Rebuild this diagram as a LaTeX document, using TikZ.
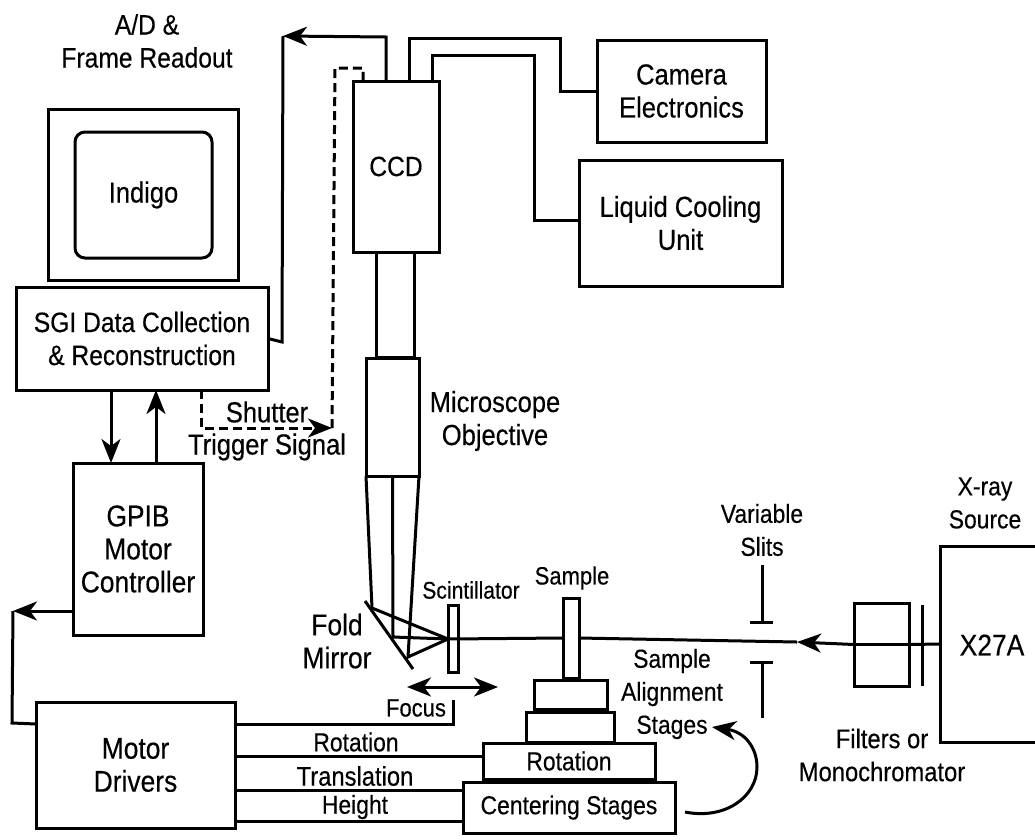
\documentclass[tikz,border=0pt]{standalone}
\usepackage{fontspec}
\setmainfont[FakeStretch=0.88,FakeBold=0.35]{Liberation Sans}
\usetikzlibrary{arrows.meta}
\tikzset{
  % heavy lines, the scan is drawn with thick strokes
  every picture/.append style = {line width=3pt, >={Stealth[length=24pt, width=19pt, inset=7pt]}},
  wire/.style     = {line width=3pt, black},
  shutline/.style = {wire, dash pattern=on 9pt off 5pt},
  fs/.style       = {font=\fontsize{#1}{33}\selectfont},
  box/.style      = {draw, rectangle, outer sep=0pt, inner sep=0pt, align=center, fs=29},
  screen/.style   = {box, rounded corners=10pt},
  txt/.style      = {align=center, inner sep=0pt, fs=#1},
  txt/.default    = 26,
}

\begin{document}
\begin{tikzpicture}[x=1pt, y=-1pt]
  \useasboundingbox (0,0) rectangle (1035,839);
  % computer and motor control
  \node[box, minimum width=190pt, minimum height=171pt] (monitor) at (143,194.5) {};
  \node[screen, minimum width=137pt, minimum height=126pt] (indigo) at (143.5,195) {Indigo};
  \node[box, fs=28, minimum width=252pt, minimum height=103pt] (sgi) at (142,338.5) {SGI Data Collection\\\& Reconstruction};
  \node[box, fs=30, minimum width=130pt, minimum height=172pt] (gpib) at (138,549) {GPIB\\Motor\\Controller};
  \node[box, fs=30, minimum width=199pt, minimum height=126pt] (drivers) at (135.5,765) {Motor\\Drivers};
  % camera and its units
  \node[box, fs=28, minimum width=86pt, minimum height=171pt] (ccd) at (396,166.5) {CCD};
  \node[box, minimum width=38pt, minimum height=105pt] (tube) at (395,305) {};
  \node[box, minimum width=53pt, minimum height=118pt] (objective) at (392.5,417) {};
  \node[box, minimum width=169pt, minimum height=102pt] (camera) at (681.5,91) {Camera\\Electronics};
  \node[box, minimum width=203pt, minimum height=126pt] (cooling) at (680.5,223) {Liquid Cooling\\Unit};
  % stage stack
  \node[box, minimum width=73pt, minimum height=29pt] (stagetop) at (570.5,694.5) {};
  \node[box, minimum width=88pt, minimum height=30pt] (stagemid) at (570,727) {};
  \node[box, fs=26, minimum width=172pt, minimum height=36pt] (rotstage) at (569,761) {Rotation};
  \node[box, fs=26, minimum width=212pt, minimum height=51pt] (centering) at (569,807.5) {Centering Stages};
  % optics on the beam
  \coordinate (focal) at (448,639);
  \coordinate (beamtip) at (797,642);
  \node[box, minimum width=55pt, minimum height=83pt] (filterbox) at (881.5,644.5) {};
  \draw[wire] (940,644) -- (filterbox.east);
  \draw[wire] (filterbox.east) -- (filterbox.west);
  \draw[wire, ->] (filterbox.west) -- (beamtip);
  \node[box, fill=white, minimum width=16pt, minimum height=80pt] (sample) at (571,638) {};
  \draw[wire] (beamtip) -- (sample.east);
  \draw[wire] (sample.west) -- (focal);
  \node[box, minimum width=10pt, minimum height=67pt] (scint) at (453,638.5) {};
  \draw[wire] (922,605) -- (922,686);
  \draw[wire] (1035,546) -- (940,546) -- (940,742) -- (1035,742);
  % slits
  \draw[wire] (762,565) -- (762,622) (750,622) -- (773,622);
  \draw[wire] (762,718) -- (762,662) (750,662) -- (773,662);
  % cone under the objective, fold mirror, rays
  \coordinate (raytop) at (372,608);
  \coordinate (raymid) at (393,637);
  \coordinate (raylow) at (408,657);
  \draw[wire] (objective.south west) -- (raytop) -- (focal);
  \draw[wire] (objective.south) -- (raymid) -- (focal);
  \draw[wire] (objective.south east) -- (raylow) -- (focal);
  \draw[wire] (365,601) -- (413,669);
  \draw[wire, <->] (407,687) -- (498,687);
  % data and shutter lines
  \coordinate (readcorner) at (283,36);
  \coordinate (portread) at (386,0);
  \coordinate (portcam) at (409,0);
  \coordinate (portcool) at (432,0);
  \coordinate (portshut) at (363,0);
  \draw[wire] (sgi.east) -- (282,342) -- (readcorner);
  \draw[wire, ->] (ccd.north -| portread) -- (386,37) -- (readcorner);
  \draw[wire] (ccd.north -| portcam) -- (409,38) -- (560,38) |- (camera.west);
  \draw[wire] (ccd.north -| portcool) -- (432,55) -- (534,55) |- ([yshift=3pt]cooling.west);
  \coordinate (shuttip) at (332,428);
  \coordinate (portdash) at (201,0);
  \draw[shutline, ->] (sgi.south -| portdash) |- (shuttip);
  \draw[shutline] (shuttip) -- (335,68) -- (363,68) -- (ccd.north -| portshut);
  % motor control lines
  \coordinate (busdown) at (111,0);
  \coordinate (busup) at (156,0);
  \draw[wire, ->] (sgi.south -| busdown) -- (gpib.north -| busdown);
  \draw[wire, ->] (gpib.north -| busup) -- (sgi.south -| busup);
  \coordinate (gpibtip) at (13,611);
  \coordinate (rowfocus) at (0,724);
  \coordinate (rowrot) at (0,756);
  \coordinate (rowtrans) at (0,790);
  \coordinate (rowheight) at (0,821);
  \draw[wire, ->] (gpib.west |- gpibtip) -- (gpibtip);
  \draw[wire] (gpibtip) -- (12,723) -- (drivers.west |- rowfocus);
  \draw[wire] (drivers.east |- rowfocus) -- (453,724) -- (453,700);
  \draw[wire] (drivers.east |- rowrot) -- (rotstage.west |- rowrot);
  \draw[wire] (drivers.east |- rowtrans) -- (centering.west |- rowtrans);
  \draw[wire] (drivers.east |- rowheight) -- (centering.west |- rowheight);
  % curved arrow to the stage label
  \draw[wire, ->] (685,812) .. controls (725,820) and (757,797) .. (757,767)
    .. controls (757,748) and (745,732) .. (712,727);
  % labels
  \node[txt=28] (readout) at (147,41) {A/D \&\\Frame Readout};
  \node[txt=29] (micro) at (495,421) {Microscope\\Objective};
  \node[txt=29] (shutter) at (267,412) {Shutter};
  \node[txt=29] (trigger) at (267,447) {Trigger Signal};
  \node[txt=30] (fold) at (337,641) {Fold\\Mirror};
  \node[txt=24] (scintlbl) at (471,590) {Scintillator};
  \node[txt=25] (samplelbl) at (572,578) {Sample};
  \node[txt=25] (focuslbl) at (416,708) {Focus};
  \node[txt] (rotlbl) at (356,742) {Rotation};
  \node[txt=27] (translbl) at (355,776) {Translation};
  \node[txt] (heightlbl) at (355,807) {Height};
  \node[txt] (alignlbl) at (672,694) {Sample\\Alignment\\Stages};
  \node[txt] (slitlbl) at (762,530) {Variable\\Slits};
  \node[txt] (sourcelbl) at (985,503) {X-ray\\Source};
  \node[txt=30] (xlbl) at (992,645) {X27A};
  \node[txt=27] (filterlbl) at (882,755) {Filters or\\Monochromator};
\end{tikzpicture}
\end{document}
